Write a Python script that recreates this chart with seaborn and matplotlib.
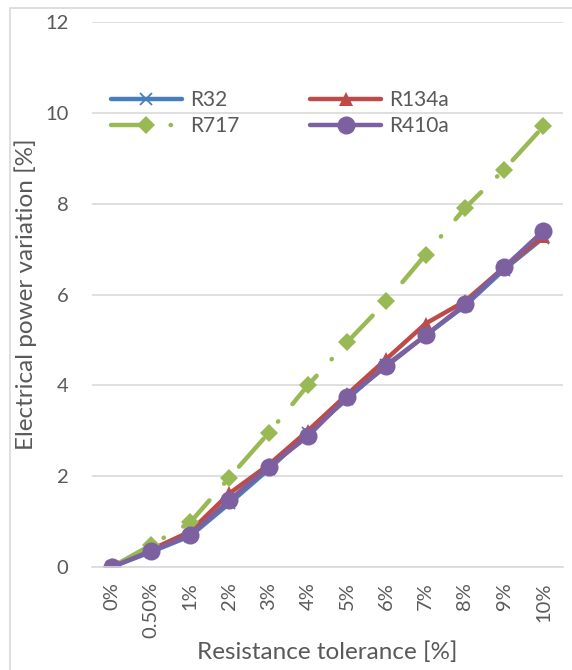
import matplotlib
matplotlib.use("Agg")
import matplotlib.pyplot as plt
from matplotlib.patches import Rectangle
import numpy as np
import pandas as pd
import seaborn as sns

# Resistance tolerance categories (x axis)
tolerance_labels = ["0%", "0.50%", "1%", "2%", "3%", "4%", "5%", "6%", "7%", "8%", "9%", "10%"]

# Electrical power variation [%] per refrigerant
r32 = [0.0, 0.33, 0.68, 1.40, 2.15, 2.95, 3.70, 4.45, 5.10, 5.75, 6.55, 7.25]
r134a = [0.0, 0.38, 0.78, 1.62, 2.25, 3.00, 3.80, 4.58, 5.36, 5.85, 6.60, 7.28]
r717 = [0.0, 0.48, 0.98, 1.97, 2.95, 4.00, 4.95, 5.85, 6.88, 7.90, 8.75, 9.70]
r410a = [0.0, 0.35, 0.70, 1.47, 2.20, 2.88, 3.74, 4.42, 5.10, 5.78, 6.60, 7.40]

series_names = ["R32", "R134a", "R717", "R410a"]
series_values = [r32, r134a, r717, r410a]

df = pd.DataFrame({
    "tolerance": tolerance_labels * len(series_names),
    "pos": list(range(len(tolerance_labels))) * len(series_names),
    "refrigerant": np.repeat(series_names, len(tolerance_labels)),
    "variation": np.concatenate(series_values),
})

sns.set_theme(style="white")
plt.rcParams["font.family"] = ["Lato", "DejaVu Sans"]
text_grey = "#595959"

fig = plt.figure(figsize=(5.72, 6.70), dpi=100)
ax = fig.add_axes([92 / 572, 1 - 567 / 670, (563 - 92) / 572, (567 - 22) / 670])

# chart area border
fig.patches.append(Rectangle((10 / 572, -0.1), 1.2, 1 - 8 / 670 + 0.1,
                             transform=fig.transFigure, fill=False,
                             edgecolor="#d9d9d9", linewidth=1.2, zorder=0))

styles = {
    "R32": dict(color="#4a7ebb", marker="x", markersize=8, mew=1.3, ls="-"),
    "R134a": dict(color="#be4b48", marker="^", markersize=10, mew=0, ls="-"),
    "R717": dict(color="#98b954", marker="D", markersize=9.5, mew=0,
                 ls=(0, (8.4, 5, 0.1, 5))),
    "R410a": dict(color="#7d60a0", marker="o", markersize=13, mew=0, ls="-"),
}

for name in series_names:
    sub = df[df["refrigerant"] == name]
    st = styles[name]
    sns.lineplot(data=sub, x="pos", y="variation", ax=ax, label=name,
                 color=st["color"], marker=st["marker"],
                 markersize=st["markersize"], markeredgewidth=st["mew"],
                 markeredgecolor=st["color"], markerfacecolor=st["color"],
                 linewidth=3.2, linestyle=st["ls"],
                 solid_capstyle="round", dash_capstyle="round")

ax.set_xlim(-0.5, len(tolerance_labels) - 0.5)
ax.set_ylim(0, 12)
ax.set_yticks(range(0, 13, 2))
ax.set_xticks(range(len(tolerance_labels)))
ax.set_xticklabels(tolerance_labels, rotation=90)
ax.tick_params(axis="both", length=0, labelsize=14.5, colors=text_grey)
ax.tick_params(axis="y", pad=17)
ax.tick_params(axis="x", pad=11)

ax.grid(axis="y", color="#d9d9d9", linewidth=1.2)
ax.set_axisbelow(True)
for side in ["left", "right", "top"]:
    ax.spines[side].set_visible(False)
ax.spines["bottom"].set_color("#d9d9d9")
ax.spines["bottom"].set_linewidth(1.2)

ax.set_xlabel("Resistance tolerance [%]", fontsize=17.5, color=text_grey, labelpad=2)
ax.set_ylabel("Electrical power variation [%]", fontsize=17.5, color=text_grey, labelpad=6)

# legend filled row by row: R32, R134a / R717, R410a
handles, labels = ax.get_legend_handles_labels()
order = [labels.index(n) for n in ["R32", "R717", "R134a", "R410a"]]
leg = ax.legend([handles[i] for i in order], [labels[i] for i in order],
                ncol=2, loc="upper left", bbox_to_anchor=(0.04, 0.875),
                frameon=False, fontsize=15, handlelength=3.4, columnspacing=3.4,
                labelspacing=0.3, handletextpad=0.4, borderaxespad=0.0,
                borderpad=0.0)
for t in leg.get_texts():
    t.set_color(text_grey)

fig.savefig("out.png", dpi=100)
